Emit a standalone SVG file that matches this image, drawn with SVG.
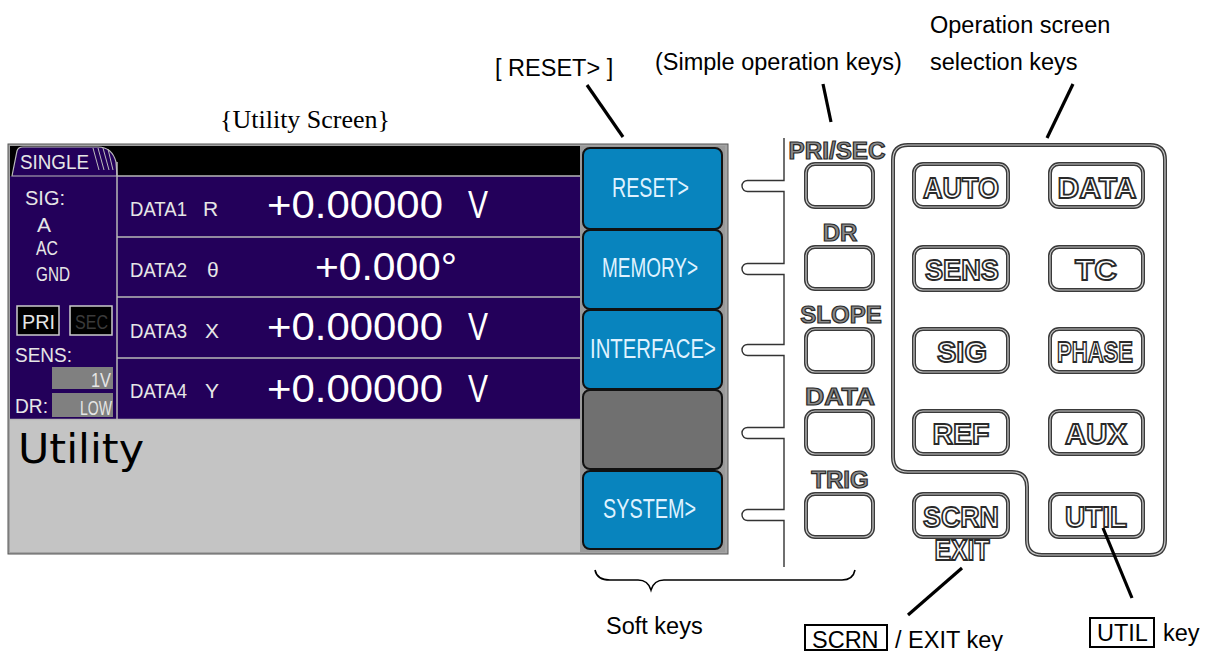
<svg xmlns="http://www.w3.org/2000/svg" width="1205" height="651" viewBox="0 0 1205 651">
<style>
.lbl{font-family:"Liberation Sans",Arial,sans-serif;font-size:23.5px;fill:#000}
.scr{font-family:"Liberation Sans",Arial,sans-serif;font-size:21px;fill:#e6e6e6}
.val{font-family:"Liberation Sans",Arial,sans-serif;font-size:38px;fill:#fff}
.sk{font-family:"Liberation Sans",Arial,sans-serif;font-size:27px;fill:#dff2ff;text-anchor:middle}
.kb{fill:#fff;stroke:#3a3a3a;stroke-width:4}
.ki{fill:none;stroke:#c8c8c8;stroke-width:1.2}
.kt{font-family:"Liberation Sans",Arial,sans-serif;font-weight:bold;font-size:30px;fill:#fff;stroke:#2a2a2a;stroke-width:1.8;text-anchor:middle}
.st{font-family:"Liberation Sans",Arial,sans-serif;font-weight:bold;font-size:24px;fill:#8a8a8a;stroke:#2a2a2a;stroke-width:1.2;text-anchor:middle}
.ptr{stroke:#000;stroke-width:3.2;fill:none}
.thin{stroke:#333;stroke-width:1.4;fill:none}
.div{stroke:#b8b8b8;stroke-width:1.5}
.skey{stroke:#111;stroke-width:2;rx:7}
</style>

<g id="screen">
  <rect x="8" y="144" width="720" height="410" fill="#a4a4a4" stroke="#555" stroke-width="1"/>
  <rect x="10" y="146" width="570" height="30" fill="#000"/>
  <rect x="10" y="176" width="570" height="244" fill="#23005a"/>
  <rect x="10" y="420" width="570" height="132" fill="#c4c4c4"/>
  <path d="M12 176 L17 151 Q18 147 23 147 H98 Q112 147 116 162 L117 176 Z" fill="#23005a" stroke="#bbb" stroke-width="1.2"/>
  <g stroke="#bbb" stroke-width="1">
    <line x1="93" y1="148" x2="99" y2="170"/>
    <line x1="98" y1="148" x2="104" y2="170"/>
    <line x1="103" y1="148" x2="109" y2="170"/>
    <line x1="108" y1="149" x2="113" y2="170"/>
  </g>
  <line class="div" x1="117" y1="176" x2="580" y2="176"/>
  <line class="div" x1="117" y1="237" x2="580" y2="237"/>
  <line class="div" x1="117" y1="297" x2="580" y2="297"/>
  <line class="div" x1="117" y1="358" x2="580" y2="358"/>
  <line class="div" x1="117" y1="162" x2="117" y2="420"/>
  <line class="div" x1="10" y1="419.5" x2="580" y2="419.5"/>
  <text class="scr" x="20" y="169" font-size="19" textLength="69" lengthAdjust="spacingAndGlyphs">SINGLE</text>
  <text class="scr" x="25" y="205" font-size="22" textLength="40" lengthAdjust="spacingAndGlyphs">SIG:</text>
  <text class="scr" x="37" y="232" font-size="20">A</text>
  <text class="scr" x="36" y="255" font-size="20" textLength="22" lengthAdjust="spacingAndGlyphs">AC</text>
  <text class="scr" x="36" y="281" font-size="20" textLength="34" lengthAdjust="spacingAndGlyphs">GND</text>
  <rect x="17" y="306" width="42" height="29" fill="#000" stroke="#ccc" stroke-width="1.5"/>
  <rect x="70" y="306" width="42" height="29" fill="#000" stroke="#ccc" stroke-width="1.5"/>
  <text class="scr" x="22" y="329" font-size="19" textLength="33" lengthAdjust="spacingAndGlyphs">PRI</text>
  <text class="scr" x="75" y="329" font-size="19" style="fill:#3a3a3a" textLength="33" lengthAdjust="spacingAndGlyphs">SEC</text>
  <text class="scr" x="15" y="362" font-size="20" textLength="57" lengthAdjust="spacingAndGlyphs">SENS:</text>
  <rect x="52" y="367" width="61" height="22" fill="#808080"/>
  <rect x="52" y="393" width="61" height="24" fill="#808080"/>
  <text class="scr" x="111" y="387" font-size="20" text-anchor="end" textLength="20" lengthAdjust="spacingAndGlyphs">1V</text>
  <text class="scr" x="15" y="413" font-size="20" textLength="33" lengthAdjust="spacingAndGlyphs">DR:</text>
  <text class="scr" x="112" y="415" font-size="20" text-anchor="end" textLength="32" lengthAdjust="spacingAndGlyphs">LOW</text>

  <text class="scr" x="130" y="216" font-size="24" textLength="57" lengthAdjust="spacingAndGlyphs">DATA1</text>
  <text class="scr" x="203" y="216" font-size="24">R</text>
  <text class="val" x="267" y="218" textLength="176" lengthAdjust="spacingAndGlyphs">+0.00000</text>
  <text class="val" x="468" y="218" textLength="20" lengthAdjust="spacingAndGlyphs">V</text>

  <text class="scr" x="130" y="277" font-size="24" textLength="57" lengthAdjust="spacingAndGlyphs">DATA2</text>
  <text class="scr" x="207" y="277" font-size="22">θ</text>
  <text class="val" x="315" y="280" textLength="142" lengthAdjust="spacingAndGlyphs">+0.000°</text>

  <text class="scr" x="130" y="338" font-size="24" textLength="57" lengthAdjust="spacingAndGlyphs">DATA3</text>
  <text class="scr" x="205" y="338" font-size="24">X</text>
  <text class="val" x="267" y="340" textLength="176" lengthAdjust="spacingAndGlyphs">+0.00000</text>
  <text class="val" x="468" y="340" textLength="20" lengthAdjust="spacingAndGlyphs">V</text>

  <text class="scr" x="130" y="398" font-size="24" textLength="57" lengthAdjust="spacingAndGlyphs">DATA4</text>
  <text class="scr" x="205" y="398" font-size="24">Y</text>
  <text class="val" x="267" y="402" textLength="176" lengthAdjust="spacingAndGlyphs">+0.00000</text>
  <text class="val" x="468" y="402" textLength="20" lengthAdjust="spacingAndGlyphs">V</text>

  <text x="18" y="463" font-family="'DejaVu Sans',sans-serif" font-size="40" fill="#000" textLength="126" lengthAdjust="spacingAndGlyphs">Utility</text>
</g>

<g id="softkeys">
  <rect x="580" y="146" width="145" height="406" fill="#9a9a9a"/>
  <rect class="skey" x="583" y="148" width="139" height="81" fill="#0884be"/>
  <rect class="skey" x="583" y="230" width="139" height="79" fill="#0884be"/>
  <rect class="skey" x="583" y="310" width="139" height="79" fill="#0884be"/>
  <rect class="skey" x="583" y="390" width="139" height="79" fill="#707070"/>
  <rect class="skey" x="583" y="471" width="139" height="78" fill="#0884be"/>
  <text class="sk" x="650.5" y="197" textLength="77" lengthAdjust="spacingAndGlyphs">RESET&gt;</text>
  <text class="sk" x="650" y="277" textLength="96" lengthAdjust="spacingAndGlyphs">MEMORY&gt;</text>
  <text class="sk" x="653" y="358" textLength="126" lengthAdjust="spacingAndGlyphs">INTERFACE&gt;</text>
  <text class="sk" x="649.5" y="518" textLength="93" lengthAdjust="spacingAndGlyphs">SYSTEM&gt;</text>
</g>

<g id="simple-keys">
  <g id="key-prisec">
    <rect class="kb" x="806" y="164" width="67" height="43" rx="9"/><rect class="ki" x="806" y="164" width="67" height="43" rx="9"/>
    <text class="st" x="837" y="159" textLength="97" lengthAdjust="spacingAndGlyphs">PRI/SEC</text>
  </g>
  <g id="key-dr">
    <rect class="kb" x="806" y="247" width="67" height="42" rx="9"/><rect class="ki" x="806" y="247" width="67" height="42" rx="9"/>
    <text class="st" x="840" y="241">DR</text>
  </g>
  <g id="key-slope">
    <rect class="kb" x="806" y="329" width="67" height="43" rx="9"/><rect class="ki" x="806" y="329" width="67" height="43" rx="9"/>
    <text class="st" x="841" y="323">SLOPE</text>
  </g>
  <g id="key-data-s">
    <rect class="kb" x="806" y="411" width="67" height="43" rx="9"/><rect class="ki" x="806" y="411" width="67" height="43" rx="9"/>
    <text class="st" x="840" y="405" textLength="70" lengthAdjust="spacingAndGlyphs">DATA</text>
  </g>
  <g id="key-trig">
    <rect class="kb" x="806" y="494" width="67" height="43" rx="9"/><rect class="ki" x="806" y="494" width="67" height="43" rx="9"/>
    <text class="st" x="840" y="488">TRIG</text>
  </g>
</g>

<g id="op-panel">
  <path d="M908 145 H1150 Q1165 145 1165 160 V540 Q1165 555 1150 555 H1042 Q1027 555 1027 540 V487 Q1027 472 1012 472 H908 Q893 472 893 457 V160 Q893 145 908 145 Z" fill="none" stroke="#3a3a3a" stroke-width="4"/>
  <path d="M908 145 H1150 Q1165 145 1165 160 V540 Q1165 555 1150 555 H1042 Q1027 555 1027 540 V487 Q1027 472 1012 472 H908 Q893 472 893 457 V160 Q893 145 908 145 Z" fill="none" stroke="#c8c8c8" stroke-width="1.2"/>
</g>

<g id="key-auto"><rect class="kb" x="914" y="164" width="94" height="43" rx="9"/><rect class="ki" x="914" y="164" width="94" height="43" rx="9"/><text class="kt" x="961" y="198" textLength="76" lengthAdjust="spacingAndGlyphs">AUTO</text></g>
<g id="key-data"><rect class="kb" x="1050" y="164" width="93" height="43" rx="9"/><rect class="ki" x="1050" y="164" width="93" height="43" rx="9"/><text class="kt" x="1097" y="198" textLength="79" lengthAdjust="spacingAndGlyphs">DATA</text></g>
<g id="key-sens"><rect class="kb" x="914" y="247" width="94" height="43" rx="9"/><rect class="ki" x="914" y="247" width="94" height="43" rx="9"/><text class="kt" x="962" y="280" textLength="74" lengthAdjust="spacingAndGlyphs">SENS</text></g>
<g id="key-tc"><rect class="kb" x="1050" y="247" width="93" height="43" rx="9"/><rect class="ki" x="1050" y="247" width="93" height="43" rx="9"/><text class="kt" x="1096" y="280" textLength="42" lengthAdjust="spacingAndGlyphs">TC</text></g>
<g id="key-sig"><rect class="kb" x="914" y="329" width="94" height="43" rx="9"/><rect class="ki" x="914" y="329" width="94" height="43" rx="9"/><text class="kt" x="962" y="362" textLength="50" lengthAdjust="spacingAndGlyphs">SIG</text></g>
<g id="key-phase"><rect class="kb" x="1050" y="329" width="93" height="43" rx="9"/><rect class="ki" x="1050" y="329" width="93" height="43" rx="9"/><text class="kt" x="1095" y="362" textLength="76" lengthAdjust="spacingAndGlyphs">PHASE</text></g>
<g id="key-ref"><rect class="kb" x="914" y="411" width="94" height="43" rx="9"/><rect class="ki" x="914" y="411" width="94" height="43" rx="9"/><text class="kt" x="961" y="444" textLength="57" lengthAdjust="spacingAndGlyphs">REF</text></g>
<g id="key-aux"><rect class="kb" x="1050" y="411" width="93" height="43" rx="9"/><rect class="ki" x="1050" y="411" width="93" height="43" rx="9"/><text class="kt" x="1096" y="444" textLength="62" lengthAdjust="spacingAndGlyphs">AUX</text></g>
<g id="key-scrn"><rect class="kb" x="914" y="494" width="94" height="43" rx="9"/><rect class="ki" x="914" y="494" width="94" height="43" rx="9"/><text class="kt" x="961" y="527" textLength="76" lengthAdjust="spacingAndGlyphs">SCRN</text><text class="kt" x="962" y="560" font-size="24" textLength="55" lengthAdjust="spacingAndGlyphs">EXIT</text></g>
<g id="key-util"><rect class="kb" x="1050" y="494" width="93" height="43" rx="9"/><rect class="ki" x="1050" y="494" width="93" height="43" rx="9"/><text class="kt" x="1096" y="527" textLength="62" lengthAdjust="spacingAndGlyphs">UTIL</text></g>

<g id="connectors">
  <path class="thin" d="M784 138 V180.5 H747.5 A5.5 5.5 0 0 0 747.5 191.5 H784 V263.5 H747.5 A5.5 5.5 0 0 0 747.5 274.5 H784 V344.5 H747.5 A5.5 5.5 0 0 0 747.5 355.5 H784 V427.5 H747.5 A5.5 5.5 0 0 0 747.5 438.5 H784 V509.5 H747.5 A5.5 5.5 0 0 0 747.5 520.5 H784 V567"/>
  <path d="M595 570 Q597 580 610 580 H638 Q648 580 651 590 Q654 580 664 580 H842 Q853 580 855 570" fill="none" stroke="#000" stroke-width="1.6"/>
  <line class="ptr" x1="587" y1="85" x2="623" y2="137"/>
  <line class="ptr" x1="823" y1="84" x2="831" y2="122"/>
  <line class="ptr" x1="1073" y1="84" x2="1047" y2="138"/>
  <line class="ptr" x1="962" y1="568" x2="908" y2="615"/>
  <line class="ptr" x1="1103" y1="528" x2="1132" y2="598"/>
</g>

<g id="labels">
  <text x="220" y="128" font-family="'Liberation Serif','Times New Roman',serif" font-size="26" fill="#000">{Utility Screen}</text>
  <text class="lbl" x="495" y="76">[ RESET&gt; ]</text>
  <text class="lbl" x="655" y="70">(Simple operation keys)</text>
  <text class="lbl" x="930" y="33">Operation screen</text>
  <text class="lbl" x="930" y="70">selection keys</text>
  <text class="lbl" x="606" y="634">Soft keys</text>
  <rect x="805" y="625" width="82" height="25" fill="none" stroke="#000" stroke-width="2"/>
  <text class="lbl" x="812" y="648">SCRN</text>
  <text class="lbl" x="895" y="648">/ EXIT key</text>
  <rect x="1090" y="618" width="64" height="29" fill="none" stroke="#000" stroke-width="2"/>
  <text class="lbl" x="1097" y="641">UTIL</text>
  <text class="lbl" x="1163" y="641">key</text>
</g>
</svg>
